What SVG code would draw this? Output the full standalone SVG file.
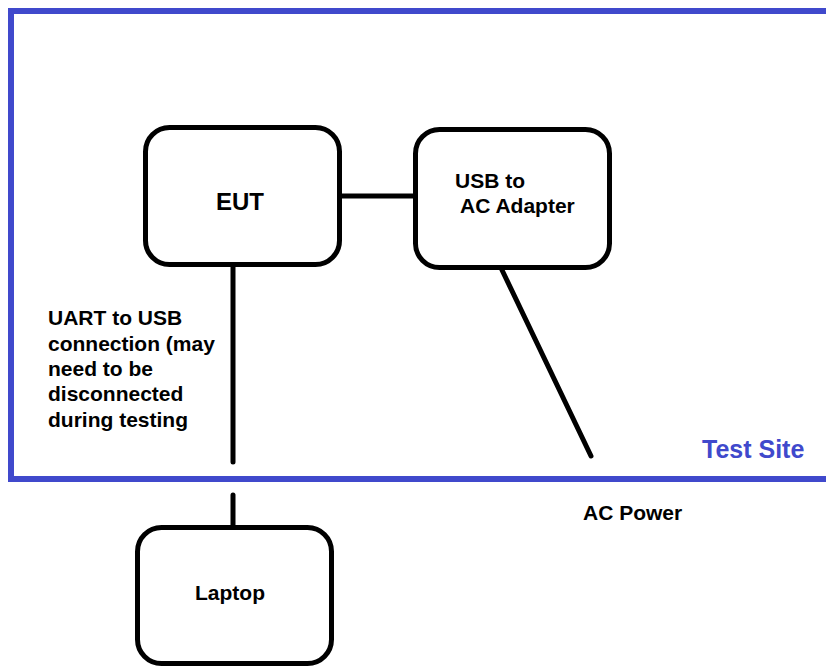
<svg xmlns="http://www.w3.org/2000/svg" width="826" height="669" viewBox="0 0 826 669">
<style>
.box{fill:#fff;stroke:#000;stroke-width:5}
.ln{stroke:#000;stroke-width:5;stroke-linecap:round;fill:none}
.t{font-family:"Liberation Sans",Arial,sans-serif;font-weight:bold;font-size:21px;fill:#000}
</style>
<rect width="826" height="669" fill="#fff"/>
<g id="test-site">
<rect x="11" y="11" width="830" height="468" fill="none" stroke="#4049cc" stroke-width="6"/>
<text x="702" y="458" class="t" style="font-size:25px;fill:#4049cc">Test Site</text>
</g>
<g id="connectors">
<line class="ln" x1="342" y1="196" x2="414" y2="196"/>
<line class="ln" x1="233" y1="267" x2="233" y2="462"/>
<line class="ln" x1="233" y1="495" x2="233" y2="526"/>
<line class="ln" x1="502" y1="270" x2="591" y2="456"/>
</g>
<g id="eut">
<rect class="box" x="145.5" y="127.5" width="194" height="137" rx="24"/>
<text x="240" y="210" class="t" text-anchor="middle" style="font-size:24px">EUT</text>
</g>
<g id="usb-adapter">
<rect class="box" x="415.5" y="129.5" width="194" height="138" rx="24"/>
<text x="455" y="188" class="t">USB to</text>
<text x="460" y="213" class="t">AC Adapter</text>
</g>
<g id="laptop">
<rect class="box" x="137.5" y="527.5" width="194" height="136" rx="24"/>
<text x="195" y="600" class="t">Laptop</text>
</g>
<g id="uart-label">
<text class="t" x="48"><tspan x="48" y="325">UART to USB</tspan><tspan x="48" y="351">connection (may</tspan><tspan x="48" y="376">need to be</tspan><tspan x="48" y="401">disconnected</tspan><tspan x="48" y="427">during testing</tspan></text>
</g>
<g id="ac-power">
<text x="583" y="520" class="t">AC Power</text>
</g>
</svg>
